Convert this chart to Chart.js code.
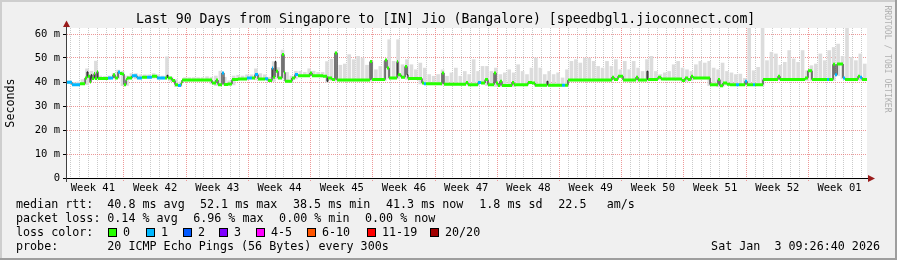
<!DOCTYPE html>
<html>
<head>
<meta charset="utf-8">
<script src="https://cdn.jsdelivr.net/npm/chart.js@4"></script>
<style>
html,body{margin:0;padding:0;background:#f0f0f0;}
#wrap{position:relative;width:897px;height:260px;overflow:hidden;background:#f0f0f0;}
#c{position:absolute;left:0;top:0;}
.t{position:absolute;font-family:'DejaVu Sans Mono',monospace;font-size:11.7px;line-height:14px;white-space:pre;color:#000;}
.box{position:absolute;width:9px;height:9px;box-sizing:border-box;border:1px solid #000;}
.edge{position:absolute;}
</style>
</head>
<body>
<div id="wrap">
<canvas id="c" width="897" height="260"></canvas>
<div class="edge" style="left:0;top:0;width:897px;height:2px;background:#cecece"></div>
<div class="edge" style="left:0;top:0;width:2px;height:260px;background:#cecece"></div>
<div class="edge" style="left:0;top:258px;width:897px;height:2px;background:#9e9e9e"></div>
<div class="edge" style="left:895px;top:0;width:2px;height:260px;background:#9e9e9e"></div>
<div id="title" class="t" style="left:136px;top:11px;font-size:13.2px;line-height:16px;">Last 90 Days from Singapore to [IN] Jio (Bangalore) [speedbgl1.jioconnect.com]</div>
<div class="t" style="left:10px;top:103px;transform:translate(-50%,-50%) rotate(-90deg);">Seconds</div>
<div class="t" style="left:887px;top:59px;font-size:8.1px;line-height:9px;color:#b0b0b0;transform:translate(-50%,-50%) rotate(90deg);">RRDTOOL / TOBI OETIKER</div>
<div id="legend"></div>
</div>
<script>
// ---------------- data ----------------
// median RTT as a step series: start day (since start of the 90 day window), value in ms, loss class
const medDay = [0.00,0.56,1.46,2.03,2.25,2.36,2.59,2.70,2.81,3.04,3.15,3.38,3.49,4.61,5.18,5.40,5.74,5.96,6.19,6.41,
  6.64,6.75,7.31,7.88,8.44,9.00,9.56,10.13,11.03,11.25,11.36,11.81,12.15,12.49,12.83,12.94,16.31,16.76,16.99,17.44,
  17.66,18.11,18.56,19.24,20.25,20.81,21.15,21.49,22.28,22.61,23.06,23.18,23.40,23.51,23.74,24.19,24.41,24.53,25.31,25.65,
  25.99,27.34,27.56,28.80,29.25,29.36,29.81,30.15,30.38,34.09,34.31,35.78,36.00,36.23,37.13,37.24,37.58,38.03,38.25,38.36,
  39.94,40.16,40.39,42.19,42.41,44.89,45.11,46.24,46.58,47.03,47.36,48.04,48.26,48.49,48.71,48.94,50.06,50.29,51.86,52.31,
  52.65,54.00,54.11,55.69,56.03,56.36,61.31,61.54,61.99,62.55,64.01,64.24,65.25,65.36,66.49,66.83,69.19,69.53,69.86,70.20,
  70.43,72.34,73.24,73.46,73.80,74.25,74.59,75.26,75.60,76.28,76.50,77.18,77.40,78.30,79.99,80.21,83.03,83.36,83.81,85.50,
  85.73,86.18,86.40,86.63,87.30,87.53,88.99,89.21,89.44];
const medMs = [39.9,38.9,39.3,41.7,44.2,42.4,40.0,43.0,41.5,43.5,41.5,44.3,41.5,41.7,43.0,41.7,44.2,43.5,43.3,38.9,
  41.0,41.7,42.6,41.7,42.0,42.0,42.4,41.7,41.7,42.8,41.7,40.6,38.9,38.5,39.5,40.8,39.6,40.8,38.9,43.8,
  39.0,39.2,41.0,41.3,41.7,41.7,43.1,41.3,41.4,40.6,45.8,42.0,48.5,44.5,41.7,51.5,44.0,40.3,41.7,43.1,
  42.6,43.8,42.6,42.4,40.3,41.7,41.0,52.1,40.8,48.5,41.0,49.2,45.8,41.7,48.5,43.0,42.0,46.5,43.0,41.5,
  39.6,39.3,39.3,43.8,39.1,39.8,38.9,39.8,39.6,41.0,38.9,43.8,39.6,38.5,40.3,38.5,39.8,38.9,39.8,39.6,
  38.6,40.3,38.6,38.6,38.6,40.8,42.0,41.0,42.4,40.8,42.0,40.8,44.5,41.0,42.0,41.2,40.6,41.7,41.0,42.4,
  41.7,38.9,41.0,38.4,39.6,39.1,38.9,38.9,38.9,40.3,38.9,38.9,38.9,41.0,42.4,41.0,41.7,44.7,41.0,41.0,
  41.0,47.4,43.0,47.5,41.7,41.0,42.4,42.0,41.0];
const medLoss = [1,1,0,0,0,0,0,0,0,0,0,0,0,1,0,0,1,0,0,0,
  0,0,1,1,0,1,0,1,0,0,0,0,0,1,0,0,0,0,0,1,
  0,0,0,0,1,0,1,0,1,0,1,0,0,0,0,0,0,0,0,1,
  0,0,0,0,1,0,0,0,0,0,0,0,0,0,0,0,0,0,0,0,
  0,1,0,0,0,0,0,1,0,0,0,0,0,0,0,0,0,0,0,0,
  0,0,0,1,0,0,0,0,0,0,0,0,0,0,0,0,0,0,0,0,
  0,0,0,0,0,0,0,1,0,1,0,1,0,0,0,0,0,0,0,1,
  0,0,1,0,1,0,0,1,0];
const periodDays = 90;

// smoke (spread of the 20 pings): highest ping per 12 h bin, ms
const smokeBinDays = 0.5;
const smokeTop = [40.5,39.8,40.0,41.0,45.5,44.5,48.7,42.5,42.3,42.5,
  43.5,45.0,44.5,42.5,43.5,43.5,43.0,43.0,43.0,43.5,
  43.0,42.5,50.5,42.0,41.0,40.0,41.8,41.8,41.8,41.8,
  41.8,42.2,42.0,42.5,44.5,42.0,40.5,42.5,42.8,42.5,
  43.0,43.0,45.5,43.5,43.0,42.0,48.5,46.0,53.3,44.0,
  42.5,44.5,44.5,44.0,45.5,44.5,44.0,44.0,48.5,49.5,
  52.5,47.0,47.5,51.4,49.3,50.7,50.0,47.0,48.6,45.1,
  46.5,48.6,57.6,48.6,57.6,47.2,49.3,47.2,45.1,47.9,
  45.8,43.1,42.4,43.1,45.1,42.4,43.8,45.8,42.4,44.4,
  43.1,49.3,44.4,46.5,46.5,44.4,45.8,43.1,43.8,45.1,
  43.8,47.2,44.4,43.1,45.8,50.0,45.8,43.1,44.4,43.1,
  43.8,41.7,45.1,48.6,49.3,47.9,50.0,50.0,48.6,46.5,
  45.8,48.6,46.5,49.3,45.1,48.6,45.1,48.6,45.8,44.4,
  49.3,50.7,44.4,43.1,43.8,44.4,47.2,48.6,45.8,45.1,
  44.4,47.2,48.6,47.9,48.6,45.8,45.1,47.9,44.4,43.8,
  43.1,43.3,41.5,70.0,44.7,46.1,70.0,48.9,52.4,51.7,
  47.0,48.2,53.1,49.6,48.2,53.1,44.7,46.8,47.5,51.7,
  48.9,53.1,54.4,55.8,50.7,70.0,50.3,48.9,51.7,47.5];

// axis ticks / labels
const weekLabels = ['Week 41','Week 42','Week 43','Week 44','Week 45','Week 46','Week 47','Week 48','Week 49','Week 50','Week 51','Week 52','Week 01'];
const firstWeekStartDay = -0.59; // Monday 00:00 of Week 41, in days from window start
const yMax = 62.5;
const yTicks = [0,5,10,15,20,25,30,35,40,45,50,55,60];
const yTickLabels = {0:'0',10:'10 m',20:'20 m',30:'30 m',40:'40 m',50:'50 m',60:'60 m'};

// legend
const lossColors = ['#26ff00','#00b8ff','#0059ff','#7e00ff','#ff00ff','#ff5500','#ff0000','#a10000'];
const lossLabels = ['0','1','2','3','4-5','6-10','11-19','20/20'];
const statsRtt = ['40.8 ms avg','52.1 ms max','38.5 ms min','41.3 ms now','1.8 ms sd','22.5','am/s'];
const statsLoss = ['0.14 % avg','6.96 % max','0.00 % min','0.00 % now'];
const probeText = '20 ICMP Echo Pings (56 Bytes) every 300s';
const dateText = 'Sat Jan  3 09:26:40 2026';

// ---------------- legend (HTML text) ----------------
(function(){
  const L = document.getElementById('legend');
  function txt(s, x, y){ const d=document.createElement('div'); d.className='t'; d.textContent=s; d.style.left=x+'px'; d.style.top=y+'px'; L.appendChild(d); return d; }
  const rows=[197,211,225,238.5];
  txt('median rtt:',16,rows[0]);
  const rttX=[107.3,200,293,386,479.3,558.3,606.7];
  statsRtt.forEach((s,i)=>txt(s,rttX[i],rows[0]));
  txt('packet loss:',16,rows[1]);
  const lossX=[107.3,193.2,279.1,365];
  statsLoss.forEach((s,i)=>txt(s,lossX[i],rows[1]));
  txt('loss color:',16,rows[2]);
  const boxX=[108,146,183,219,256,307,367,430];
  lossLabels.forEach((s,i)=>{
    const b=document.createElement('div'); b.className='box'; b.style.left=boxX[i]+'px'; b.style.top='228px'; b.style.background=lossColors[i]; L.appendChild(b);
    txt(s, boxX[i]+15, rows[2]);
  });
  txt('probe:',16,rows[3]);
  txt(probeText,107.3,rows[3]);
  const d = txt(dateText,0,rows[3]); d.style.left='auto'; d.style.right=(897-880)+'px';
})();

// ---------------- derived tables for the library ----------------
function medianAt(d){ let v=medMs[0]; for(let k=0;k<medDay.length;k++){ if(medDay[k]<=d) v=medMs[k]; else break; } return v; }
function segEnd(k){ return k+1<medDay.length ? medDay[k+1] : periodDays; }

const blackLine = medDay.map((d,k)=>({x:d,y:medMs[k]}));
blackLine.push({x:periodDays, y:medMs[medMs.length-1]});

const lossSets = [];
lossColors.forEach((col,L)=>{
  const pts=[];
  medDay.forEach((d,k)=>{ if(medLoss[k]===L){ pts.push({x:d,y:medMs[k]},{x:segEnd(k),y:medMs[k]},{x:segEnd(k),y:null}); } });
  if(pts.length) lossSets.push({type:'line',data:pts,borderColor:col,borderWidth:3,borderCapStyle:'butt',pointRadius:0,spanGaps:false,order:0});
});

const smokeData = smokeTop.map((top,i)=>{
  const a=i*smokeBinDays, c=a+smokeBinDays/2, b=a+smokeBinDays-1e-6;
  const lo=Math.min(medianAt(a),medianAt(c),medianAt(b))-0.4;
  return top>lo+0.5 ? {x:c,y:[lo,top]} : {x:c,y:null};
});

const xTicks=[];
for(let d=Math.ceil(-firstWeekStartDay)+firstWeekStartDay; d<periodDays; d+=1){
  const w=(d-firstWeekStartDay)/7; const isMajor=Math.abs(w-Math.round(w))<1e-6;
  xTicks.push({value:+d.toFixed(3),kind:isMajor?'major':'minor'});
}
weekLabels.forEach((s,i)=>xTicks.push({value:firstWeekStartDay+7*i+3.5,kind:'label',text:s}));
xTicks.sort((p,q)=>p.value-q.value);

const frame = {
  id:'frame',
  beforeDraw(chart){ const {ctx,chartArea:a}=chart; ctx.save(); ctx.fillStyle='#ffffff'; ctx.fillRect(a.left,a.top,a.right-a.left,a.bottom-a.top); ctx.restore(); },
  afterDraw(chart){
    const {ctx,chartArea:a,scales:{y}}=chart;
    const y0=Math.round(y.getPixelForValue(0))+0.5;
    const x0=a.left-0.5;
    ctx.save();
    ctx.lineWidth=1;
    ctx.strokeStyle='#000';
    ctx.beginPath(); ctx.moveTo(a.left-4,y0); ctx.lineTo(a.right+2,y0); ctx.stroke();
    ctx.strokeStyle='#404040';
    ctx.beginPath(); ctx.moveTo(x0,a.bottom+4); ctx.lineTo(x0,a.top-3); ctx.stroke();
    ctx.fillStyle='#9a1c1c';
    ctx.beginPath(); ctx.moveTo(a.right+8,y0); ctx.lineTo(a.right+1,y0-3.5); ctx.lineTo(a.right+1,y0+3.5); ctx.closePath(); ctx.fill();
    ctx.beginPath(); ctx.moveTo(x0,a.top-7.5); ctx.lineTo(x0-3.5,a.top-1); ctx.lineTo(x0+3.5,a.top-1); ctx.closePath(); ctx.fill();
    ctx.restore();
  }
};

const MAJOR='rgba(230,110,110,0.7)', MINOR='rgba(150,150,150,0.5)';

new Chart(document.getElementById('c'),{
  type:'line',
  data:{datasets:[
    {type:'bar',data:smokeData,backgroundColor:'#dcdcdc',borderWidth:0,barThickness:3,order:3},
    {type:'line',data:blackLine,borderColor:'#111',borderWidth:1,stepped:true,pointRadius:0,order:2},
    ...lossSets
  ]},
  options:{
    responsive:false,devicePixelRatio:1,animation:false,
    layout:{padding:{left:0,right:30,top:28,bottom:0}},
    plugins:{legend:{display:false},tooltip:{enabled:false},title:{display:false}},
    scales:{
      x:{type:'linear',min:0,max:periodDays,offset:false,
        afterBuildTicks:(s)=>{ s.ticks=xTicks.map(t=>Object.assign({},t)); },
        afterFit:(s)=>{ s.height=82; },
        grid:{offset:false,drawTicks:true,tickLength:4,lineWidth:1,
          color:(c)=>c.tick&&c.tick.kind==='major'?MAJOR:(c.tick&&c.tick.kind==='minor'?MINOR:'rgba(0,0,0,0)'),
          tickColor:(c)=>c.tick&&c.tick.kind==='major'?MAJOR:'rgba(0,0,0,0)',
          tickBorderDash:[1,1]},
        border:{display:false,dash:[1,1]},
        ticks:{autoSkip:false,maxRotation:0,minRotation:0,padding:0,color:'#000',
          font:{family:'DejaVu Sans Mono',size:10.5},
          callback:function(v,i,ticks){ const t=ticks[i]; return t&&t.kind==='label'?t.text:''; }}
      },
      y:{type:'linear',min:0,max:yMax,
        afterBuildTicks:(s)=>{ s.ticks=yTicks.map(v=>({value:v})); },
        afterFit:(s)=>{ s.width=67; },
        grid:{drawTicks:true,tickLength:4,lineWidth:1,
          color:(c)=>c.tick&&c.tick.value%10===0?MAJOR:MINOR,
          tickColor:(c)=>c.tick&&c.tick.value%10===0?'#000':'rgba(0,0,0,0)'},
        border:{display:false,dash:[1,1]},
        ticks:{padding:3,color:'#000',font:{family:'DejaVu Sans Mono',size:10.5},
          callback:(v)=>yTickLabels[v]!==undefined?yTickLabels[v]:''}
      }
    }
  },
  plugins:[frame]
});
</script>
</body>
</html>
